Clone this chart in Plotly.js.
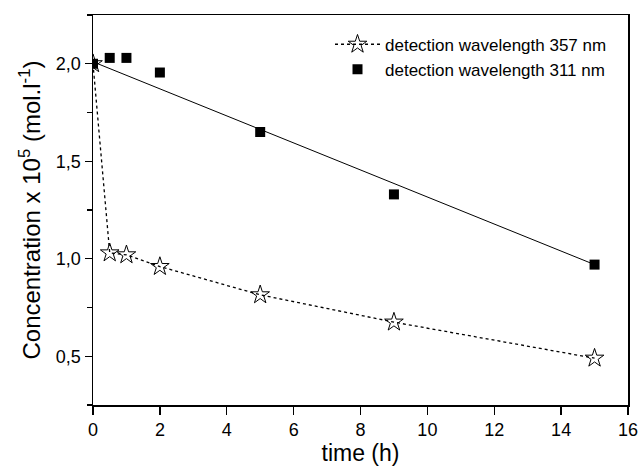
<!DOCTYPE html>
<html>
<head>
<meta charset="utf-8">
<script src="https://cdn.plot.ly/plotly-3.0.1.min.js"></script>
<style>html,body{margin:0;padding:0;background:#fff;}#chart{width:640px;height:472px;}</style>
</head>
<body>
<div id="chart"></div>
<script>
// Data
var time357 = [0, 0.5, 1, 2, 5, 9, 15];
var conc357 = [2.0, 1.03, 1.02, 0.96, 0.815, 0.675, 0.49];
var time311 = [0, 0.5, 1, 2, 5, 9, 15];
var conc311 = [2.0, 2.03, 2.03, 1.955, 1.65, 1.33, 0.97];
var fitTime311 = [0, 15];
var fitConc311 = [2.01, 0.97];
var name357 = 'detection wavelength 357 nm';
var name311 = 'detection wavelength 311 nm';

var traces = [
  {
    x: fitTime311, y: fitConc311, mode: 'lines', showlegend: false,
    line: {color: '#000', width: 1}, hoverinfo: 'skip'
  },
  {
    x: time357, y: conc357, mode: 'lines+markers', name: name357,
    line: {color: '#000', width: 1.3, dash: '3px,3px'},
    marker: {symbol: 'star-open', size: 14, color: '#000', line: {color: '#000', width: 1}}
  },
  {
    x: time311, y: conc311, mode: 'markers', name: name311,
    marker: {symbol: 'square', size: 10, color: '#000'}
  }
];

var fontFam = '"Liberation Sans", Arial, sans-serif';
var layout = {
  width: 640, height: 472,
  margin: {l: 93, r: 12, t: 15, b: 67},
  paper_bgcolor: '#fff', plot_bgcolor: '#fff',
  separators: ',.',
  font: {family: fontFam, color: '#000', size: 17},
  showlegend: true,
  legend: {
    x: 0.443, y: 0.97, xanchor: 'left', yanchor: 'top',
    bgcolor: 'rgba(0,0,0,0)', font: {size: 17, family: fontFam, color: '#000'},
    itemwidth: 45, tracegroupgap: 0
  },
  xaxis: {
    range: [0, 16], dtick: 2, tick0: 0,
    showgrid: false, zeroline: false,
    showline: true, linecolor: '#000', linewidth: 1.5, mirror: true,
    ticks: 'outside', ticklen: 8, tickwidth: 1.3, tickcolor: '#000',
    tickfont: {size: 18, family: fontFam},
    title: {text: 'time (h)', font: {size: 23, family: fontFam}, standoff: 6}
  },
  yaxis: {
    range: [0.25, 2.25], dtick: 0.5, tick0: 0, tickformat: '.1f',
    showgrid: false, zeroline: false,
    showline: true, linecolor: '#000', linewidth: 1.5, mirror: true,
    ticks: 'outside', ticklen: 7, tickwidth: 1.3, tickcolor: '#000',
    minor: {dtick: 0.25, tick0: 0, ticks: 'outside', ticklen: 5, tickwidth: 1.3, tickcolor: '#000'},
    tickfont: {size: 18, family: fontFam},
    title: {text: 'Concentration x 10<sup>5</sup> (mol.l<sup>-1</sup>)', font: {size: 24, family: fontFam}, standoff: 8}
  }
};

Plotly.newPlot('chart', traces, layout, {displayModeBar: false, staticPlot: true});
</script>
</body>
</html>
